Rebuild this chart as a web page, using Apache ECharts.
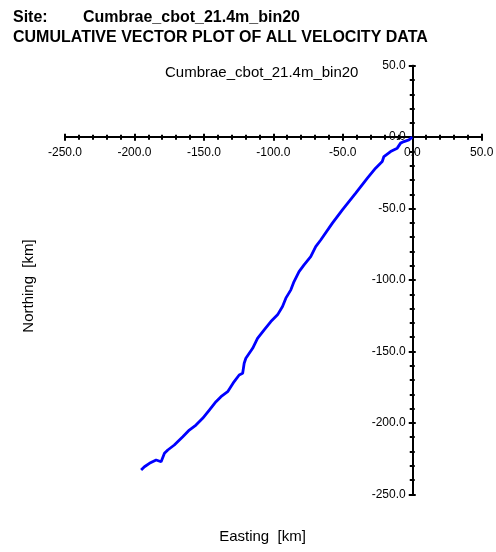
<!DOCTYPE html>
<html>
<head>
<meta charset="utf-8">
<script src="https://cdn.jsdelivr.net/npm/echarts@6/dist/echarts.min.js"></script>
<style>html,body{margin:0;padding:0;background:#fff;}#c{width:496px;height:552px;}</style>
</head>
<body>
<div id="c"></div>
<script>
const siteName = 'Cumbrae_cbot_21.4m_bin20';
const plotTitle = 'CUMULATIVE VECTOR PLOT OF ALL VELOCITY DATA';
const xName = 'Easting  [km]';
const yName = 'Northing  [km]';
const axisMin = -250, axisMax = 50, majorStep = 50;

const eastingKm = [0, -2.4, -6.0, -8.4, -10.8, -15.6, -20.4, -21.6, -26.4, -32.3, -40.7, -50.3, -57.5, -65.9, -69.5, -73.1, -77.9, -81.5, -85.1, -87.4, -91.0, -93.4, -97.0, -101.8, -106.6, -111.4, -114.9, -119.8, -121.0, -122.1, -124.6, -128.2, -132.9, -137.7, -141.3, -146.1, -150.9, -155.7, -160.5, -165.2, -171.3, -176.0, -178.4, -180.8, -184.4, -189.2, -192.8, -195.2];
const northingKm = [0, -1.9, -3.1, -4.2, -7.7, -10.1, -13.6, -17.1, -21.7, -28.7, -39.2, -50.9, -60.2, -72.0, -76.6, -83.6, -89.4, -94.1, -101.1, -106.9, -112.7, -118.6, -124.4, -129.1, -134.9, -140.8, -147.8, -154.8, -158.3, -165.3, -166.5, -171.1, -178.2, -181.7, -185.2, -191.0, -196.8, -201.5, -205.0, -209.7, -215.5, -219.0, -221.3, -227.2, -226.0, -228.3, -230.7, -233.0];

const pts = eastingKm.map((x, i) => [x, northingKm[i]]);
const FONT = 'Liberation Sans, Arial, sans-serif';
const fmt = v => v.toFixed(1);

// axes crossing at zero: tick marks only (outside + inside halves)
function tickAxis(inside, pos) {
  return {
    type: 'value', gridIndex: 0, min: axisMin, max: axisMax, interval: majorStep, position: pos,
    axisLine: { show: true, onZero: true, onZeroAxisIndex: 0, lineStyle: { color: '#000', width: 2 } },
    axisTick: { show: true, inside: inside, length: 3.5, lineStyle: { color: '#000', width: 2 } },
    minorTick: { show: true, splitNumber: 5, length: 2.5, lineStyle: { color: '#000', width: 2 } },
    splitLine: { show: false }, minorSplitLine: { show: false },
    axisLabel: { show: false }
  };
}
// label-only axes, in helper grids whose edges lie on the zero lines
function labelAxis(gridIndex, pos, margin) {
  return {
    type: 'value', gridIndex: gridIndex, min: axisMin, max: axisMax, interval: majorStep, position: pos,
    axisLine: { show: false, onZero: false }, axisTick: { show: false },
    splitLine: { show: false },
    axisLabel: { show: true, formatter: fmt, color: '#000', fontFamily: FONT, fontSize: 12, margin: margin }
  };
}
function hiddenAxis(gridIndex) {
  return { type: 'value', gridIndex: gridIndex, show: false, min: axisMin, max: axisMax };
}

const chart = echarts.init(document.getElementById('c'), null, { renderer: 'canvas' });
chart.setOption({
  animation: false,
  backgroundColor: '#fff',
  title: [
    { text: 'Site:', left: 13, top: 10, padding: 0, textStyle: { fontFamily: FONT, fontSize: 16, fontWeight: 'bold', color: '#000' } },
    { text: siteName, left: 83, top: 10, padding: 0, textStyle: { fontFamily: FONT, fontSize: 16, fontWeight: 'bold', color: '#000' } },
    { text: plotTitle, left: 13, top: 30, padding: 0, textStyle: { fontFamily: FONT, fontSize: 16, fontWeight: 'bold', color: '#000' } },
    { text: siteName, left: 165, top: 65, padding: 0, textStyle: { fontFamily: FONT, fontSize: 15, fontWeight: 'normal', color: '#000' } }
  ],
  graphic: [
    { type: 'text', x: 262.5, y: 537, style: { text: xName, font: '15px ' + FONT, fill: '#000', textAlign: 'center', textVerticalAlign: 'middle' } },
    { type: 'text', x: 29, y: 286, rotation: Math.PI / 2, style: { text: yName, font: '15px ' + FONT, fill: '#000', textAlign: 'center', textVerticalAlign: 'middle' } }
  ],
  grid: [
    { left: 65, right: 14.3, top: 65.7, bottom: 57.7, containLabel: false, outerBoundsMode: 'none' },
    { left: 65, right: 14.3, top: 65.7, bottom: 414.7, containLabel: false, outerBoundsMode: 'none' },
    { left: 411.7, right: 14.3, top: 65.7, bottom: 57.7, containLabel: false, outerBoundsMode: 'none' }
  ],
  xAxis: [tickAxis(false, 'bottom'), tickAxis(true, 'bottom'), labelAxis(1, 'bottom', 9), hiddenAxis(2)],
  yAxis: [tickAxis(false, 'left'), tickAxis(true, 'left'), hiddenAxis(1), labelAxis(2, 'left', 6)],
  series: [{
    type: 'line', xAxisIndex: 0, yAxisIndex: 0, data: pts, showSymbol: false, symbol: 'none',
    lineStyle: { color: '#0000ff', width: 2.8 }, z: 1
  }]
});
</script>
</body>
</html>
